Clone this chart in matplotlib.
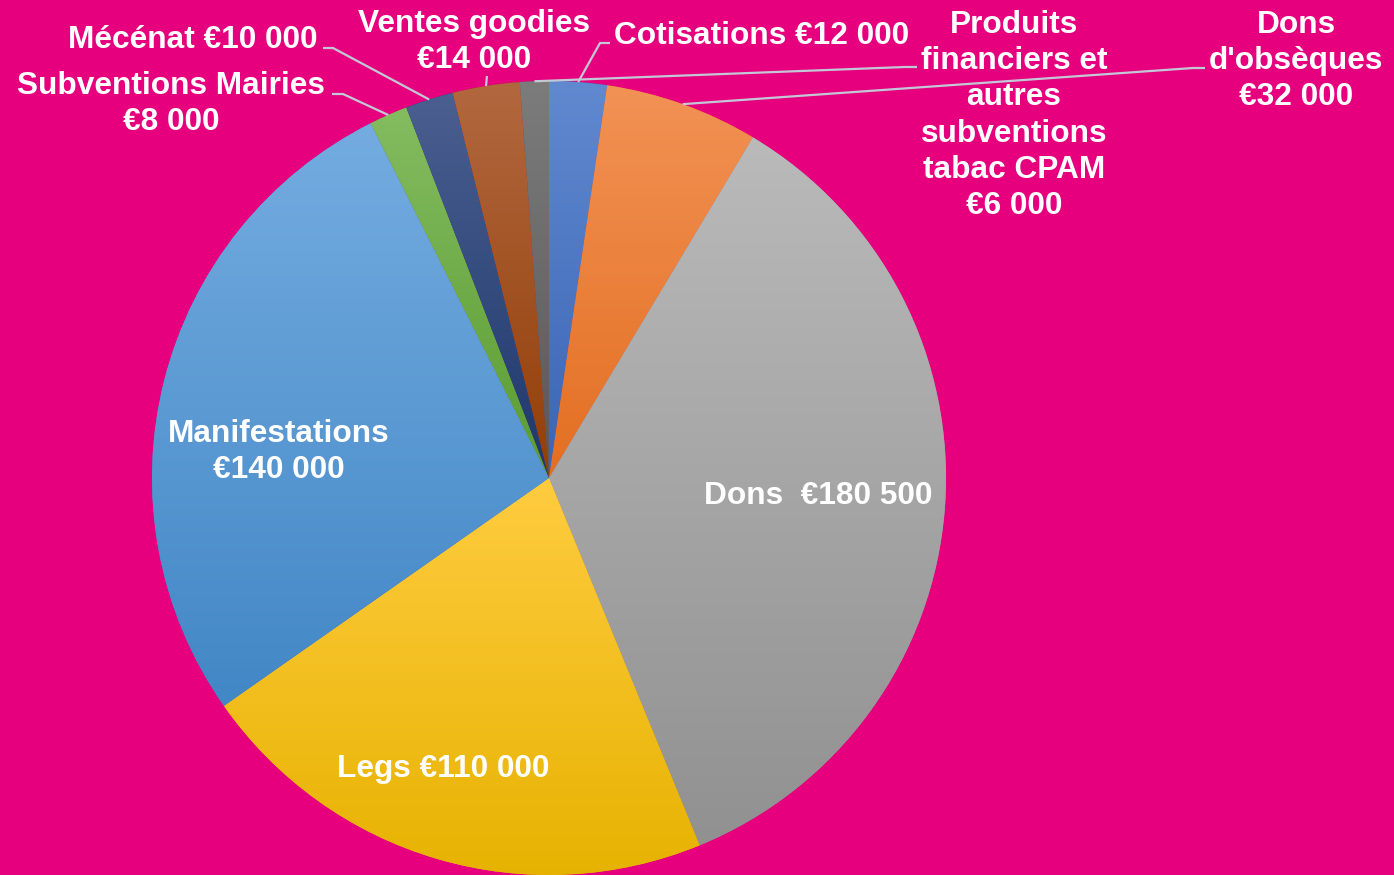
import numpy as np
import matplotlib
matplotlib.use("Agg")
import matplotlib.pyplot as plt
from matplotlib.colors import to_rgb

# data
categories = ["Cotisations", "Dons d'obsèques", "Dons", "Legs", "Manifestations",
              "Subventions Mairies", "Mécénat", "Ventes goodies",
              "Produits financiers et autres subventions tabac CPAM"]
values = [12000, 32000, 180500, 110000, 140000, 8000, 10000, 14000, 6000]
label_texts = ["Cotisations €12 000",
               "Dons\nd'obsèques\n€32 000",
               "Dons  €180 500",
               "Legs €110 000",
               "Manifestations\n€140 000",
               "Subventions Mairies\n€8 000",
               "Mécénat €10 000",
               "Ventes goodies\n€14 000",
               "Produits\nfinanciers et\nautres\nsubventions\ntabac CPAM\n€6 000"]

# gradient colours (top, bottom) per slice
grad_colors = [("#6189D0", "#3A65B5"),
               ("#F29255", "#E36F22"),
               ("#BABABA", "#919191"),
               ("#FFCC40", "#E6B200"),
               ("#74ACE0", "#4287C6"),
               ("#84BC60", "#5A9C32"),
               ("#4B5F90", "#1E386C"),
               ("#B2683F", "#923E08"),
               ("#7C7C7C", "#585858")]

W, H = 1394, 875
BG = "#E6007E"
cx, cy, R = 549, H - 478, 397

# label placement in image pixel coords (x, y from top)
label_pos = [(762, 36), (1296, 61), (818, 496), (443, 769), (279, 452),
             (171, 104), (193, 40), (474, 42), (1014, 115.5)]
# leader line start (label side) and stub end, image coords; None = inside label
leader = [((610, 43), (600, 43)),
          ((1205, 68), (1193, 68)),
          None, None, None,
          ((332, 94), (343, 94)),
          ((323, 48), (333, 48)),
          ((487, 76), (487, 76)),
          ((917, 67), (905, 67))]

fig = plt.figure(figsize=(W / 100, H / 100), dpi=100, facecolor=BG)
ax = fig.add_axes([0, 0, 1, 1])
ax.set_facecolor(BG)

wedges, _ = ax.pie(values, startangle=90, counterclock=False, center=(cx, cy),
                   radius=R, colors=[c[1] for c in grad_colors],
                   wedgeprops=dict(linewidth=0))

for w, (top, bot) in zip(wedges, grad_colors):
    verts = w.get_path().vertices
    x0, x1 = verts[:, 0].min(), verts[:, 0].max()
    y0, y1 = verts[:, 1].min(), verts[:, 1].max()
    t = np.linspace(0, 1, 256)[:, None, None]
    img = (1 - t) * np.array(to_rgb(top)) + t * np.array(to_rgb(bot))
    im = ax.imshow(img, extent=(x0, x1, y0, y1), origin="upper", aspect="auto",
                   interpolation="bilinear", zorder=1.5)
    im.set_clip_path(w)

# leader lines
for w, ld in zip(wedges, leader):
    if ld is None:
        continue
    mid = np.deg2rad((w.theta1 + w.theta2) / 2)
    ex, ey = cx + R * np.cos(mid), cy + R * np.sin(mid)
    (sx, sy), (kx, ky) = ld
    ax.plot([sx, kx, ex], [H - sy, H - ky, ey], color="#C3C8D6", lw=1.6,
            solid_capstyle="butt", zorder=3)

for txt, (x, y) in zip(label_texts, label_pos):
    ax.text(x, H - y, txt, ha="center", va="center", multialignment="center",
            color="white", fontsize=22.8, fontweight="bold",
            family=["Liberation Sans", "DejaVu Sans"], linespacing=1.27, zorder=4)

ax.set_xlim(0, W)
ax.set_ylim(0, H)
ax.set_aspect("equal")
ax.axis("off")

fig.savefig("out.png", dpi=100, facecolor=BG)
